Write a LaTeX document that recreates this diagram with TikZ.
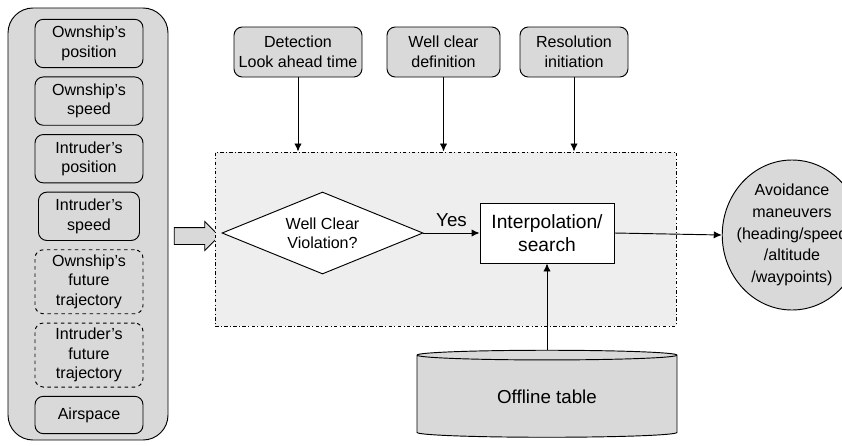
\documentclass[tikz,border=0pt]{standalone}
\usepackage{fontspec}
\setmainfont{Liberation Sans}
\usepackage{tikz}
\usetikzlibrary{positioning,arrows.meta,shapes.geometric,shapes.arrows,calc}

\definecolor{boxgray}{HTML}{D9D9D9}
\definecolor{zonegray}{HTML}{EEEEEE}

\begin{document}
\begin{tikzpicture}[
      x=0.03cm, y=-0.03cm,
      node distance=0.25cm,
      font=\fontsize{13.7}{16.5}\selectfont,
      every node/.style={line width=0.8pt},
      inbox/.style={draw, fill=boxgray, rectangle, rounded corners=0.25cm,
                    minimum width=3.24cm, minimum height=1.45cm, align=center, inner sep=2pt},
      futbox/.style={inbox, dashed, minimum height=1.92cm},
      parbox/.style={draw, fill=boxgray, rectangle, rounded corners=0.25cm,
                    minimum height=1.5cm, align=center, inner sep=2pt,
                    font=\fontsize{13.7}{17}\selectfont},
      arr/.style={line width=0.8pt, -{Latex[length=2.4mm, width=2.2mm]}},
    ]
    \useasboundingbox (0,0) rectangle (842,445);
    \clip (0,0) rectangle (842,445);

    % inputs
    \node[draw, fill=boxgray, rounded corners=0.75cm, minimum width=4.8cm,
          minimum height=12.96cm] (panel) at (88,224) {};
    \node[inbox] (opos) at (89,43.5) {Ownship's\\position};
    \node[inbox, below=of opos] (ospd) {Ownship's\\speed};
    \node[inbox, below=of ospd] (ipos) {Intruder's\\position};
    \node[inbox, below=of ipos, minimum width=3.03cm] (ispd) {Intruder's\\speed};
    \node[futbox, below=of ispd] (otraj) {Ownship's\\future\\trajectory};
    \node[futbox, below=of otraj] (itraj) {Intruder's\\future\\trajectory};
    \node[inbox, below=of itraj, minimum height=1.12cm] (air) {Airspace};

    \node[single arrow, draw, fill=boxgray, minimum height=1.35cm,
          single arrow head extend=0.18cm, inner xsep=0pt, inner ysep=0.24cm] (feed) at (192.5,236) {};

    % core logic
    \node[draw, dash dot, fill=zonegray, minimum width=13.83cm, minimum height=5.22cm]
          (zone) at (445.5,239) {};
    \node[diamond, draw, fill=white, aspect=2.45, minimum width=6.03cm, minimum height=2.46cm,
          inner sep=0pt, align=center] (wcv) at (322.5,233) {Well Clear\\Violation?};
    \node[draw, fill=white, minimum width=4.02cm, minimum height=1.8cm, align=center,
          font=\fontsize{16.4}{19.5}\selectfont] (interp) at (547,233) {Interpolation/\\search};

    % parameters
    \node[parbox, minimum width=3.84cm] (det) at (298,52) {Detection\\Look ahead time};
    \node[parbox, minimum width=3.39cm] (wcd) at (443.5,52) {Well clear\\definition};
    \node[parbox, minimum width=3.24cm] (res) at (574,52) {Resolution\\initiation};

    \node[cylinder, shape border rotate=90, draw, fill=boxgray, aspect=0.09,
          minimum width=7.8cm, minimum height=2.61cm,
          font=\fontsize{16}{19}\selectfont] (table) at (547,397) {Offline table};

    \node[ellipse, draw, fill=boxgray, align=center, inner xsep=-0.18cm, inner ysep=0pt,
          minimum height=4.5cm, font=\fontsize{13.7}{18.5}\selectfont]
          (avoid) at (792,235) {Avoidance\\maneuvers\\(heading/speed\\/altitude\\/waypoints)};

    \draw[arr] (det) -- (det |- zone.north);
    \draw[arr] (wcd) -- (wcd |- zone.north);
    \draw[arr] (res) -- (res |- zone.north);
    \draw[arr] (wcv.east) -- node[above=2pt, font=\fontsize{16}{19}\selectfont] {Yes} (interp.west);
    \draw[arr] (interp.east) -- (avoid.west);
    \draw[arr] (table.north) -- (interp.south);
  \end{tikzpicture}
\end{document}
